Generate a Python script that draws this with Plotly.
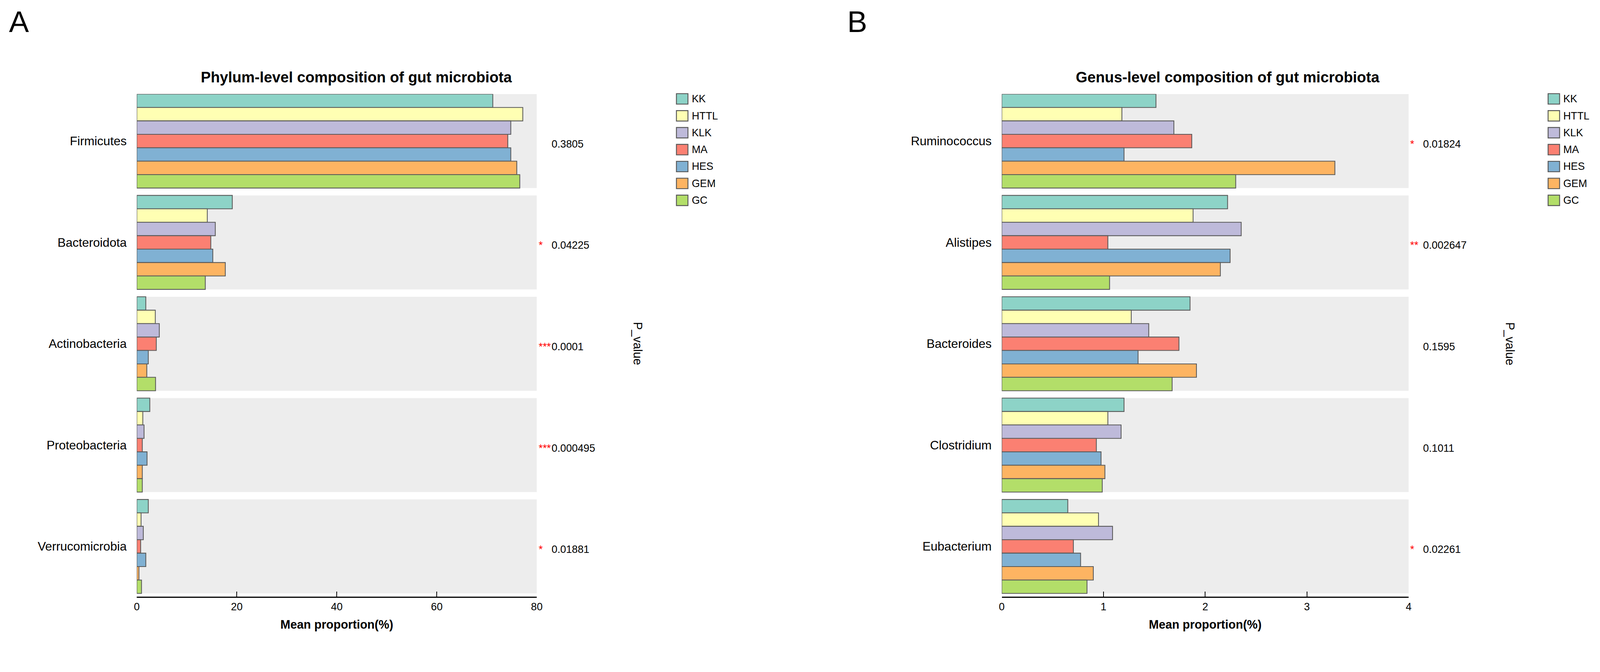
import plotly.graph_objects as go

# Positions are measured in the reference picture (4285 x 1721).
# The browser viewport is 4096 css px wide and the photo is scaled up uniformly,
# so the figure is built at 4096 x 1645 and every pixel size is scaled by S.
REF_W, REF_H = 4285, 1721
VIEW_W = 4096
S = VIEW_W / REF_W
VIEW_H = round(REF_H * S)

# ---------------- data ----------------
groups = ["KK", "HTTL", "KLK", "MA", "HES", "GEM", "GC"]
colors = ["#8DD3C7", "#FFFFB3", "#BEBADA", "#FB8072", "#80B1D3", "#FDB462", "#B3DE69"]

phyla = ["Firmicutes", "Bacteroidota", "Actinobacteria", "Proteobacteria", "Verrucomicrobia"]
phylum_KK = [71.2, 19.1, 1.8, 2.6, 2.3]
phylum_HTTL = [77.2, 14.1, 3.7, 1.2, 0.85]
phylum_KLK = [74.8, 15.7, 4.5, 1.45, 1.3]
phylum_MA = [74.2, 14.8, 3.9, 1.1, 0.77]
phylum_HES = [74.8, 15.2, 2.3, 2.05, 1.8]
phylum_GEM = [76.0, 17.7, 2.0, 1.1, 0.43]
phylum_GC = [76.6, 13.7, 3.75, 1.1, 0.94]
phylum_p = ["0.3805", "0.04225", "0.0001", "0.000495", "0.01881"]
phylum_stars = ["", "*", "***", "***", "*"]

genera = ["Ruminococcus", "Alistipes", "Bacteroides", "Clostridium", "Eubacterium"]
genus_KK = [1.516, 2.22, 1.851, 1.202, 0.649]
genus_HTTL = [1.181, 1.881, 1.273, 1.043, 0.951]
genus_KLK = [1.692, 2.354, 1.445, 1.173, 1.089]
genus_MA = [1.868, 1.043, 1.742, 0.93, 0.704]
genus_HES = [1.202, 2.245, 1.34, 0.976, 0.775]
genus_GEM = [3.275, 2.149, 1.914, 1.014, 0.9]
genus_GC = [2.30, 1.06, 1.675, 0.988, 0.838]
genus_p = ["0.01824", "0.002647", "0.1595", "0.1011", "0.02261"]
genus_stars = ["*", "**", "", "", "*"]

phylum_series = [phylum_KK, phylum_HTTL, phylum_KLK, phylum_MA, phylum_HES, phylum_GEM, phylum_GC]
genus_series = [genus_KK, genus_HTTL, genus_KLK, genus_MA, genus_HES, genus_GEM, genus_GC]

# ---------------- layout helpers ----------------
FONT = "Liberation Sans"
def px(x):
    return x / REF_W
def py(y):
    return 1 - y / REF_H
def sz(v):
    return v * S

BARGAP = 0.0725
HALF = (1 - BARGAP) / 2
Y_TOP_PX, Y_BOT_PX = 252, 1599
YRANGE = [4 + HALF + 0.033, -HALF]

fig = go.Figure()

panels = [
    dict(cats=phyla, series=phylum_series, xa="x", ya="y", xmax=80,
         pvals=phylum_p, stars=phylum_stars, pv_x=1476, st_x=1441,
         title="Phylum-level composition of gut microbiota", title_x=952,
         leg_x=1814, pl_x=1710, letter="A", letter_x=44),
    dict(cats=genera, series=genus_series, xa="x2", ya="y2", xmax=4,
         pvals=genus_p, stars=genus_stars, pv_x=3822, st_x=3788,
         title="Genus-level composition of gut microbiota", title_x=3298,
         leg_x=4161, pl_x=4058, letter="B", letter_x=2301),
]

shapes = []
annotations = []

for k, p in enumerate(panels):
    for g, col, vals in zip(groups, colors, p["series"]):
        fig.add_trace(go.Bar(
            x=vals, y=p["cats"], orientation="h", name=g,
            marker=dict(color=col, line=dict(color="#595959", width=sz(2.2))),
            xaxis=p["xa"], yaxis=p["ya"], showlegend=False,
        ))
    for i in range(len(p["cats"])):
        shapes.append(dict(type="rect", xref=p["xa"], yref=p["ya"],
                           x0=0, x1=p["xmax"], y0=i - HALF, y1=i + HALF,
                           fillcolor="#EDEDED", line=dict(width=0), layer="below"))
    for i, (pv, st) in enumerate(zip(p["pvals"], p["stars"])):
        annotations.append(dict(xref="paper", yref=p["ya"], x=px(p["pv_x"]), y=i,
                                text=pv, showarrow=False, xanchor="left", yanchor="middle",
                                yshift=sz(-8), font=dict(family=FONT, size=sz(28), color="black")))
        if st:
            annotations.append(dict(xref="paper", yref=p["ya"], x=px(p["st_x"]), y=i,
                                    text=st, showarrow=False, xanchor="left", yanchor="middle",
                                    yshift=sz(-8), font=dict(family=FONT, size=sz(28), color="red")))
    annotations.append(dict(xref="paper", yref="paper", x=px(p["title_x"]), y=py(207),
                            text="<b>" + p["title"] + "</b>", showarrow=False,
                            xanchor="center", yanchor="middle",
                            font=dict(family=FONT, size=sz(40), color="black")))
    annotations.append(dict(xref="paper", yref="paper", x=px(p["letter_x"]), y=py(58),
                            text=p["letter"], showarrow=False, xanchor="center", yanchor="middle",
                            font=dict(family=FONT, size=sz(80), color="black")))
    annotations.append(dict(xref="paper", yref="paper", x=px(p["pl_x"]), y=py(921),
                            text="P_value", showarrow=False, textangle=90,
                            xanchor="center", yanchor="middle",
                            font=dict(family=FONT, size=sz(32), color="black")))
    for j, (g, col) in enumerate(zip(groups, colors)):
        yc = 265 + j * 45.3
        shapes.append(dict(type="rect", xref="paper", yref="paper",
                           x0=px(p["leg_x"]), x1=px(p["leg_x"] + 31),
                           y0=py(yc - 14), y1=py(yc + 14),
                           fillcolor=col, line=dict(color="#595959", width=sz(2.5))))
        annotations.append(dict(xref="paper", yref="paper", x=px(p["leg_x"] + 39), y=py(yc),
                                text=g, showarrow=False, xanchor="left", yanchor="middle",
                                font=dict(family=FONT, size=sz(28), color="black")))

axis_common_x = dict(showgrid=False, zeroline=False, showline=True, linecolor="black",
                     linewidth=sz(3), ticks="inside", ticklen=sz(14), tickwidth=sz(2),
                     tickcolor="black",
                     tickfont=dict(family=FONT, size=sz(28), color="black"),
                     title=dict(text="<b>Mean proportion(%)</b>", standoff=sz(22),
                                font=dict(family=FONT, size=sz(32), color="black")))
axis_common_y = dict(showgrid=False, zeroline=False, showline=False, ticks="",
                     range=YRANGE, ticklabelstandoff=int(round(sz(26))),
                     tickfont=dict(family=FONT, size=sz(33), color="black"),
                     domain=[py(Y_BOT_PX), py(Y_TOP_PX)])

fig.update_layout(
    width=VIEW_W, height=VIEW_H, margin=dict(l=0, r=0, t=0, b=0),
    paper_bgcolor="white", plot_bgcolor="white",
    barmode="group", bargap=BARGAP, bargroupgap=0,
    xaxis=dict(axis_common_x, domain=[px(361), px(1438)], range=[0, 80], dtick=20, anchor="y"),
    yaxis=dict(axis_common_y, anchor="x", categoryorder="array", categoryarray=phyla),
    xaxis2=dict(axis_common_x, domain=[px(2690), px(3785.5)], range=[0, 4], dtick=1, anchor="y2"),
    yaxis2=dict(axis_common_y, anchor="x2", categoryorder="array", categoryarray=genera),
    shapes=shapes, annotations=annotations,
    font=dict(family=FONT),
)

fig.write_html("out.html", config={"displayModeBar": False},
               post_script="document.body.style.margin='0';")
